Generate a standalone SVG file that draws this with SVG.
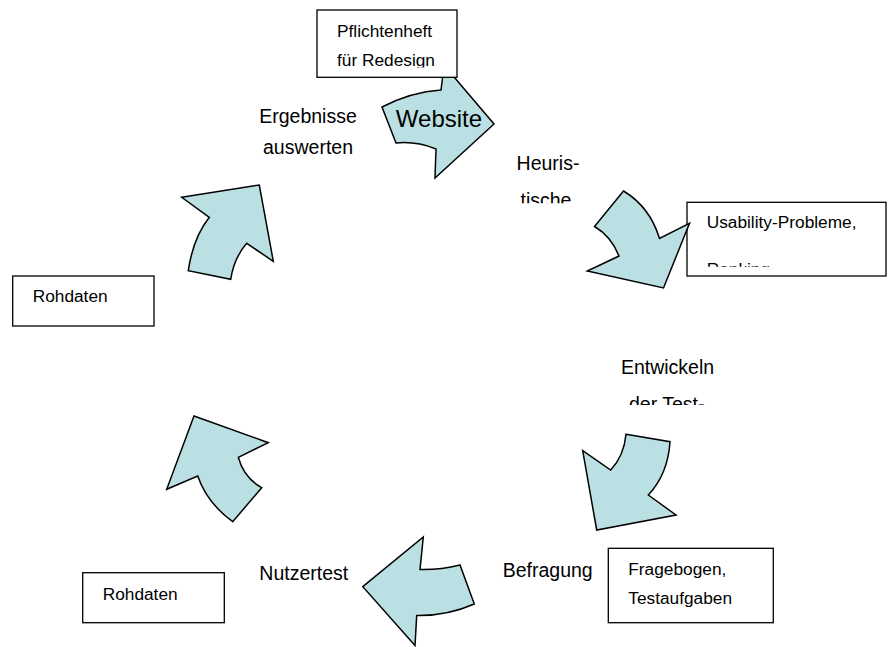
<svg xmlns="http://www.w3.org/2000/svg" width="888" height="647" viewBox="0 0 888 647">
<style>
.arrow{fill:#bbe0e3;stroke:#000;stroke-width:1.5;stroke-linejoin:miter}
.box{fill:#fff;stroke:#000;stroke-width:1.3}
.lbl{font-family:"Liberation Sans",Arial,sans-serif;font-size:19.5px;fill:#000}
.bt{font-family:"Liberation Sans",Arial,sans-serif;font-size:17.3px;fill:#000}
.mid{text-anchor:middle}
</style>
<defs>
<clipPath id="cTische"><rect x="490" y="180" width="120" height="23.3"/></clipPath>
<clipPath id="cTest"><rect x="590" y="385" width="150" height="20"/></clipPath>
<clipPath id="cRank"><rect x="687" y="203" width="199" height="63.7"/></clipPath>
<clipPath id="cPfl"><rect x="317" y="10" width="140" height="57.5"/></clipPath>
</defs>
<rect width="888" height="647" fill="#fff"/>
<g id="box-usability">
<rect class="box" x="687" y="202.3" width="199" height="73.7"/>
<text class="bt" x="706.7" y="228">Usability-Probleme,</text>
<text class="bt" x="706.7" y="275" clip-path="url(#cRank)">Ranking</text>
</g>
<g id="connectors">
<path id="arrow-website" class="arrow" d="M382,107 Q411,92 441,90 L443,74 L451.5,74 L494,124 L435,178 L436,149 Q416,141 396,143 Z"/>
<path id="arrow-heuristik" class="arrow" d="M623.5,191 Q650,207 659.5,238.5 L689.5,223.3 L663.5,288 L587.3,271 L619,256 Q611,236 594.5,226.5 Z"/>
<path id="arrow-entwickeln" class="arrow" d="M626,434.3 L670,441.7 Q668,474 648.3,495 L676,515 L596.7,530 L582.7,450.7 L610.7,470 Q624,456 626,434.3 Z"/>
<path id="arrow-befragung" class="arrow" d="M423.3,537 L420,569.5 Q440,570 460,565 L474.3,604 Q447,616 416.7,615.5 L415,645.5 L362.8,586.7 Z"/>
<path id="arrow-nutzertest" class="arrow" d="M194,416 L268.3,442.7 L238.3,457.3 Q244,478 261.7,487.7 L232.7,521.7 Q207,503 197.7,476 L166.7,489.3 Z"/>
<path id="arrow-auswerten" class="arrow" d="M181.7,197.3 L259.3,185 L273.3,261.3 L246.7,243.3 Q234,258 230.7,279.3 L188.3,270.7 Q193,238 209.3,217.3 Z"/>
</g>
<g id="box-pflichtenheft">
<rect class="box" x="317" y="10" width="140" height="67.3"/>
<text class="bt" x="337" y="37.3">Pflichtenheft</text>
<text class="bt" x="337" y="65.7" clip-path="url(#cPfl)">für Redesign</text>
</g>
<g id="label-website"><text x="439" y="126.7" class="mid" font-family="'Liberation Sans',Arial,sans-serif" font-size="24">Website</text></g>
<g id="label-ergebnisse">
<text class="lbl mid" x="308" y="122.7">Ergebnisse</text>
<text class="lbl mid" x="308" y="154">auswerten</text>
</g>
<g id="label-heuristik">
<text class="lbl mid" x="548" y="170">Heuris-</text>
<text class="lbl mid" x="546" y="206.7" clip-path="url(#cTische)">tische</text>
</g>
<g id="box-rohdaten-top">
<rect class="box" x="12.7" y="276" width="141.3" height="50"/>
<text class="bt" x="32.7" y="301.7">Rohdaten</text>
</g>
<g id="label-entwickeln">
<text class="lbl mid" x="667.5" y="374.3">Entwickeln</text>
<text class="lbl mid" x="666.7" y="410.8" clip-path="url(#cTest)">der Test-</text>
</g>
<g id="label-befragung"><text class="lbl" x="502.7" y="576.7">Befragung</text></g>
<g id="box-fragebogen">
<rect class="box" x="608.3" y="548.3" width="165" height="74.4"/>
<text class="bt" x="628.3" y="575">Fragebogen,</text>
<text class="bt" x="628.3" y="604">Testaufgaben</text>
</g>
<g id="label-nutzertest"><text class="lbl" x="259.3" y="580">Nutzertest</text></g>
<g id="box-rohdaten-bottom">
<rect class="box" x="82.7" y="572.7" width="141.6" height="50"/>
<text class="bt" x="102.7" y="600">Rohdaten</text>
</g>
</svg>
